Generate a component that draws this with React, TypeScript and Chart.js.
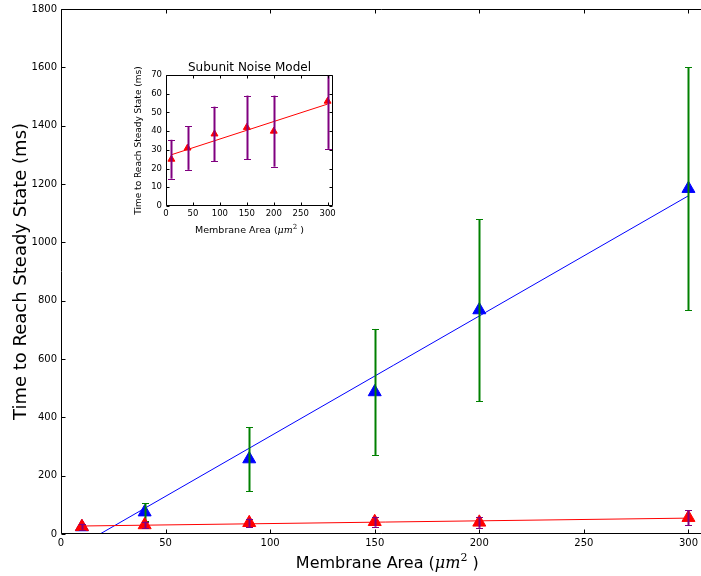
import React, { useEffect, useRef } from "react";
import { Chart, registerables } from "chart.js";

Chart.register(...registerables);

// ---- data ----
const areas = [10, 40, 90, 150, 200, 300];
const fullMeans = [24, 75, 257, 487, 768, 1184];
const fullErrs = [8, 31, 110, 216, 312, 417];
const subunitMeans = [25, 31, 38.5, 42, 40, 56];
const subunitErrs = [10.4, 11.7, 14.6, 17, 19, 25.5];

const mainXMax = 306; // visible part of the x axis
const mainAxesXMax = 312; // full extent of the (cropped) axes, used to centre the x label
const mainYMax = 1800;
const insetXMax = 310;
const insetYMax = 70;

const yLabel = "Time to Reach Steady State (ms)";
const xLabelText = "Membrane Area (";
const xLabelMath = "μm";
const xLabelSup = "2";
const xLabelEnd = " )";
const insetTitle = "Subunit Noise Model";

const FONT = "'DejaVu Sans', sans-serif";

function linearFit(xs: number[], ys: number[]) {
  const n = xs.length;
  const mx = xs.reduce((a, b) => a + b, 0) / n;
  const my = ys.reduce((a, b) => a + b, 0) / n;
  let sxy = 0;
  let sxx = 0;
  for (let i = 0; i < n; i++) {
    sxy += (xs[i] - mx) * (ys[i] - my);
    sxx += (xs[i] - mx) * (xs[i] - mx);
  }
  const slope = sxy / sxx;
  const intercept = my - slope * mx;
  return [xs[0], xs[n - 1]].map((x) => ({ x, y: intercept + slope * x }));
}

function points(xs: number[], ys: number[]) {
  return xs.map((x, i) => ({ x, y: ys[i] }));
}

const plainTick = (v: any) => String(v);

const errorBarPlugin = {
  id: "errorBars",
  afterDatasetDraw(chart: any, args: any) {
    const ds: any = chart.data.datasets[args.index];
    if (!ds.errors) return;
    const { ctx, chartArea } = chart;
    const xs = chart.scales.x;
    const ys = chart.scales.y;
    ctx.save();
    ctx.beginPath();
    ctx.rect(chartArea.left, chartArea.top, chartArea.right - chartArea.left, chartArea.bottom - chartArea.top);
    ctx.clip();
    ds.data.forEach((p: any, i: number) => {
      const e = ds.errors[i];
      const px = Math.round(xs.getPixelForValue(p.x)) + 0.5;
      const y1 = ys.getPixelForValue(p.y - e);
      const y2 = ys.getPixelForValue(p.y + e);
      ctx.strokeStyle = ds.errorColor;
      ctx.lineWidth = ds.errorWidth;
      ctx.beginPath();
      ctx.moveTo(px, y1);
      ctx.lineTo(px, y2);
      ctx.stroke();
      ctx.lineWidth = 1;
      const c = ds.capHalf;
      ctx.beginPath();
      ctx.moveTo(px - c, Math.round(y1) + 0.5);
      ctx.lineTo(px + c, Math.round(y1) + 0.5);
      ctx.moveTo(px - c, Math.round(y2) + 0.5);
      ctx.lineTo(px + c, Math.round(y2) + 0.5);
      ctx.stroke();
    });
    ctx.restore();
  },
};

function makeFramePlugin(tickLen: number, rightSide: boolean) {
  return {
    id: "frameTicks",
    afterDraw(chart: any) {
      const { ctx, chartArea } = chart;
      const { left, right, top, bottom } = chartArea;
      const xs = chart.scales.x;
      const ys = chart.scales.y;
      ctx.save();
      ctx.strokeStyle = "#000";
      ctx.lineWidth = 1;
      const L = Math.round(left) + 0.5;
      const R = rightSide ? Math.round(right) - 0.5 : right + 2;
      const T = Math.round(top) + 0.5;
      const B = Math.round(bottom) - 0.5;
      ctx.beginPath();
      ctx.moveTo(R, T);
      ctx.lineTo(L, T);
      ctx.lineTo(L, B);
      ctx.lineTo(R, B);
      if (rightSide) ctx.lineTo(R, T);
      ctx.stroke();
      ctx.beginPath();
      xs.ticks.forEach((t: any) => {
        const px = Math.round(xs.getPixelForValue(t.value)) + 0.5;
        ctx.moveTo(px, B);
        ctx.lineTo(px, B - tickLen);
        ctx.moveTo(px, T);
        ctx.lineTo(px, T + tickLen);
      });
      ys.ticks.forEach((t: any) => {
        const py = Math.round(ys.getPixelForValue(t.value)) + 0.5;
        ctx.moveTo(L, py);
        ctx.lineTo(L + tickLen, py);
        if (rightSide) {
          ctx.moveTo(R, py);
          ctx.lineTo(R - tickLen, py);
        }
      });
      ctx.stroke();
      ctx.restore();
    },
  };
}

function makeXTitlePlugin(size: number, baseline: number, axesXMax: number | null) {
  return {
    id: "xMathTitle",
    afterDraw(chart: any) {
      const { ctx, chartArea } = chart;
      const rightEdge = axesXMax === null ? chartArea.right : chart.scales.x.getPixelForValue(axesXMax);
      const parts = [
        { t: xLabelText, f: `${size}px ${FONT}`, dy: 0 },
        { t: xLabelMath, f: `italic ${size}px 'DejaVu Serif', serif`, dy: 0 },
        { t: xLabelSup, f: `${Math.round(size * 0.7)}px 'DejaVu Serif', serif`, dy: -size * 0.42 },
        { t: xLabelEnd, f: `${size}px ${FONT}`, dy: 0 },
      ];
      ctx.save();
      let total = 0;
      const widths = parts.map((p) => {
        ctx.font = p.f;
        const w = ctx.measureText(p.t).width;
        total += w;
        return w;
      });
      let x = (chartArea.left + rightEdge) / 2 - total / 2;
      ctx.fillStyle = "#000";
      ctx.textBaseline = "alphabetic";
      ctx.textAlign = "left";
      parts.forEach((p, i) => {
        ctx.font = p.f;
        ctx.fillText(p.t, x, baseline + p.dy);
        x += widths[i];
      });
      ctx.restore();
    },
  };
}

function makeTopTitlePlugin(text: string, size: number, centerY: number) {
  return {
    id: "topTitle",
    afterDraw(chart: any) {
      const { ctx, chartArea } = chart;
      ctx.save();
      ctx.font = `${size}px ${FONT}`;
      ctx.fillStyle = "#000";
      ctx.textAlign = "center";
      ctx.textBaseline = "middle";
      ctx.fillText(text, (chartArea.left + chartArea.right) / 2, centerY);
      ctx.restore();
    },
  };
}

function fixHeight(h: number) {
  return (s: any) => {
    s.height = h;
    s.paddingLeft = 0;
    s.paddingRight = 0;
    s.paddingTop = 0;
    s.paddingBottom = 0;
  };
}

function fixWidth(w: number) {
  return (s: any) => {
    s.width = w;
    s.paddingLeft = 0;
    s.paddingRight = 0;
    s.paddingTop = 0;
    s.paddingBottom = 0;
  };
}

function MainChart() {
  const ref = useRef<HTMLCanvasElement>(null);
  useEffect(() => {
    const chart = new Chart(ref.current!, {
      type: "scatter",
      data: {
        datasets: [
          {
            data: linearFit(areas, fullMeans),
            showLine: true,
            borderColor: "#0000ff",
            borderWidth: 1,
            pointRadius: 0,
            order: 4,
          },
          {
            data: points(areas, fullMeans),
            pointStyle: "triangle",
            pointRadius: 7.5,
            backgroundColor: "#0000ff",
            borderColor: "#0000ff",
            borderWidth: 1,
            order: 3,
            errors: fullErrs,
            errorColor: "#008000",
            errorWidth: 2,
            capHalf: 3.5,
          } as any,
          {
            data: linearFit(areas, subunitMeans),
            showLine: true,
            borderColor: "#ff0000",
            borderWidth: 1,
            pointRadius: 0,
            order: 2,
          },
          {
            data: points(areas, subunitMeans),
            pointStyle: "triangle",
            pointRadius: 7.5,
            backgroundColor: "#ff0000",
            borderColor: "#ff0000",
            borderWidth: 1,
            order: 1,
            errors: subunitErrs,
            errorColor: "#800080",
            errorWidth: 2,
            capHalf: 3.5,
          } as any,
        ],
      },
      options: {
        responsive: false,
        animation: false,
        devicePixelRatio: 1,
        events: [],
        layout: { autoPadding: false, padding: { top: 9, right: 0, bottom: 0, left: 0 } },
        plugins: { legend: { display: false }, tooltip: { enabled: false }, title: { display: false } },
        scales: {
          x: {
            type: "linear",
            min: 0,
            max: mainXMax,
            grid: { display: false, drawTicks: false },
            border: { display: false },
            ticks: {
              stepSize: 50,
              includeBounds: false,
              padding: 3,
              color: "#000",
              font: { family: FONT, size: 10 },
              callback: plainTick,
            },
            afterFit: fixHeight(42),
          },
          y: {
            type: "linear",
            min: 0,
            max: mainYMax,
            grid: { display: false, drawTicks: false },
            border: { display: false },
            ticks: {
              stepSize: 200,
              includeBounds: false,
              padding: 4,
              color: "#000",
              font: { family: FONT, size: 10 },
              callback: plainTick,
            },
            title: {
              display: true,
              text: yLabel,
              color: "#000",
              font: { family: FONT, size: 18 },
              padding: { top: 11, bottom: 0 },
            },
            afterFit: fixWidth(61),
          },
        },
      },
      plugins: [errorBarPlugin, makeFramePlugin(4, false), makeXTitlePlugin(16, 568, mainAxesXMax)],
    } as any);
    return () => chart.destroy();
  }, []);
  return (
    <canvas
      ref={ref}
      width={701}
      height={576}
      style={{ position: "absolute", left: 0, top: 0, width: 701, height: 576, display: "block" }}
    />
  );
}

function InsetChart() {
  const ref = useRef<HTMLCanvasElement>(null);
  useEffect(() => {
    const chart = new Chart(ref.current!, {
      type: "scatter",
      data: {
        datasets: [
          {
            data: linearFit(areas, subunitMeans),
            showLine: true,
            borderColor: "#ff0000",
            borderWidth: 1,
            pointRadius: 0,
            order: 2,
          },
          {
            data: points(areas, subunitMeans),
            pointStyle: "triangle",
            pointRadius: 4,
            backgroundColor: "#ff0000",
            borderColor: "#ff0000",
            borderWidth: 1,
            order: 1,
            errors: subunitErrs,
            errorColor: "#800080",
            errorWidth: 2,
            capHalf: 3.5,
          } as any,
        ],
      },
      options: {
        responsive: false,
        animation: false,
        devicePixelRatio: 1,
        events: [],
        layout: { autoPadding: false, padding: { top: 20, right: 7, bottom: 0, left: 0 } },
        plugins: {
          legend: { display: false },
          tooltip: { enabled: false },
          title: { display: false },
        },
        scales: {
          x: {
            type: "linear",
            min: 0,
            max: insetXMax,
            grid: { display: false, drawTicks: false },
            border: { display: false },
            ticks: {
              stepSize: 50,
              includeBounds: false,
              padding: 3,
              color: "#000",
              font: { family: FONT, size: 8.5 },
              callback: plainTick,
            },
            afterFit: fixHeight(44),
          },
          y: {
            type: "linear",
            min: 0,
            max: insetYMax,
            grid: { display: false, drawTicks: false },
            border: { display: false },
            ticks: {
              stepSize: 10,
              includeBounds: false,
              padding: 4,
              color: "#000",
              font: { family: FONT, size: 8.5 },
              callback: plainTick,
            },
            title: {
              display: true,
              text: yLabel,
              color: "#000",
              font: { family: FONT, size: 9 },
              padding: { top: 8.6, bottom: 0 },
            },
            afterFit: fixWidth(41),
          },
        },
      },
      plugins: [errorBarPlugin, makeFramePlugin(3, true), makeXTitlePlugin(9.5, 178, null), makeTopTitlePlugin(insetTitle, 12, 12.5)],
    } as any);
    return () => chart.destroy();
  }, []);
  return (
    <canvas
      ref={ref}
      width={215}
      height={195}
      style={{ position: "absolute", left: 125, top: 55, width: 215, height: 195, display: "block" }}
    />
  );
}

export default function App() {
  return (
    <div style={{ position: "absolute", left: 0, top: 0, width: 701, height: 576, background: "#fff", overflow: "hidden" }}>
      <MainChart />
      <InsetChart />
    </div>
  );
}
